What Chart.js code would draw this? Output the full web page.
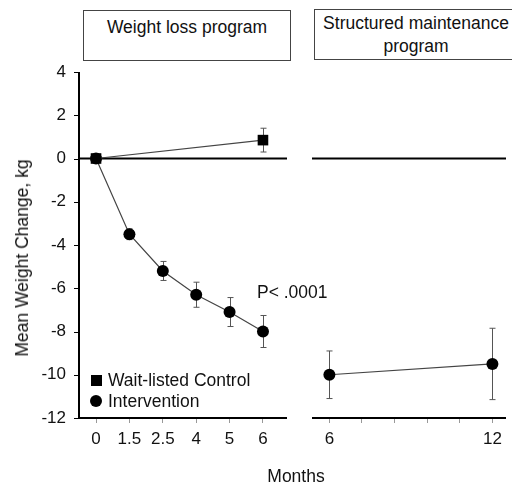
<!DOCTYPE html>
<html>
<head>
<meta charset="utf-8">
<script src="https://cdn.jsdelivr.net/npm/chart.js@4/dist/chart.umd.min.js"></script>
<style>
  html, body { margin:0; padding:0; background:#fff; }
  body { width:512px; height:483px; position:relative; overflow:hidden;
         font-family:"Liberation Sans", Arial, sans-serif; color:#111; }
  .abs { position:absolute; }
  #leftWrap { left:0; top:0; width:300px; height:483px; }
  #rightWrap { left:300px; top:0; width:212px; height:483px; }
  .hdr { position:absolute; box-sizing:border-box; border:1px solid #444; font-size:17.5px;
         text-align:center; background:#fff; }
  .txt { position:absolute; font-size:17.5px; white-space:nowrap; line-height:20px; }
</style>
</head>
<body>
<div id="leftWrap" class="abs"><canvas id="cLeft"></canvas></div>
<div id="rightWrap" class="abs"><canvas id="cRight"></canvas></div>

<div class="hdr" style="left:83px;top:10px;width:208px;height:51px;padding-top:5px;line-height:22px;">Weight loss program</div>
<div class="hdr" style="left:314px;top:9px;width:204px;height:51px;padding-top:2px;line-height:23px;">Structured maintenance<br>program</div>

<div class="txt" id="ytitle" style="left:22px;top:258px;transform:translate(-50%,-50%) rotate(-90deg);">Mean Weight Change, kg</div>
<div class="txt" style="left:296px;top:476px;transform:translate(-50%,-50%);">Months</div>
<div class="txt" style="left:257px;top:282px;">P&lt; .0001</div>

<div class="abs" style="left:91px;top:375px;width:11px;height:11px;background:#000;"></div>
<div class="txt" style="left:108px;top:370px;">Wait-listed Control</div>
<div class="abs" style="left:90px;top:395px;width:12px;height:12px;border-radius:50%;background:#000;"></div>
<div class="txt" style="left:108px;top:391px;">Intervention</div>

<script>
// ---- data ----
const leftMonths = ['0', '1.5', '2.5', '4', '5', '6'];
const interventionValues = [0, -3.5, -5.2, -6.3, -7.1, -8.0];
const interventionErrors = [0, 0.25, 0.44, 0.58, 0.67, 0.74];
const controlMonths = ['0', '6'];
const controlValues = [0, 0.85];
const controlErrors = [0, 0.55];
const maintenanceMonths = [6, 12];
const maintenanceValues = [-10.0, -9.5];
const maintenanceErrors = [1.1, 1.65];
const maintenanceTicks = [6, 7.2, 8.4, 9.6, 10.8, 12];
const maintenanceTickLabels = ['6', '12'];
const yTicks = [4, 2, 0, -2, -4, -6, -8, -10, -12];

// axis ranges
const Y_RANGE = [-12, 4];
const LEFT_X_RANGE = [-0.51, 5.72];
const RIGHT_X_RANGE = [5.36, 12.5];

const FONT = { family: '"Liberation Sans", Arial, sans-serif', size: 17 };
Chart.defaults.font.family = FONT.family;
Chart.defaults.color = '#111';

const errorBars = {
  id: 'errorBars',
  beforeDatasetsDraw(chart) {
    const ctx = chart.ctx;
    const ys = chart.scales.y;
    const xs = chart.scales.x;
    ctx.save();
    ctx.strokeStyle = '#555';
    ctx.lineWidth = 1;
    chart.data.datasets.forEach(ds => {
      (ds.errors || []).forEach((e, i) => {
        if (!e) return;
        const p = ds.data[i];
        const x = Math.round(xs.getPixelForValue(p.x)) + 0.5;
        const y1 = ys.getPixelForValue(p.y + e);
        const y2 = ys.getPixelForValue(p.y - e);
        ctx.beginPath();
        ctx.moveTo(x, y1); ctx.lineTo(x, y2);
        ctx.moveTo(x - 3, y1); ctx.lineTo(x + 3, y1);
        ctx.moveTo(x - 3, y2); ctx.lineTo(x + 3, y2);
        ctx.stroke();
      });
    });
    ctx.restore();
  }
};
// y tick marks
const yTickMarks = {
  id: 'yTickMarks',
  afterDraw(chart, args, opts) {
    if (!opts.show) return;
    const ctx = chart.ctx;
    const xs = chart.scales.x, ys = chart.scales.y;
    const L = Math.round(xs.getPixelForValue(xs.min));
    ctx.save();
    ctx.fillStyle = '#000';
    yTicks.forEach(v => {
      const y = Math.round(ys.getPixelForValue(v));
      ctx.fillRect(L - 5, y, 5, 1);
    });
    ctx.restore();
  }
};

function frameDataset(xr, withY) {
  const pts = withY
    ? [{ x: xr[0], y: Y_RANGE[1] }, { x: xr[0], y: Y_RANGE[0] }, { x: xr[1], y: Y_RANGE[0] }]
    : [{ x: xr[0], y: Y_RANGE[0] }, { x: xr[1], y: Y_RANGE[0] }];
  return { label: 'axis', data: pts, borderColor: '#000', borderWidth: 2, pointRadius: 0,
           tension: 0, clip: false, order: 5, fill: false };
}
function zeroDataset(xr) {
  return { label: 'zero', data: [{ x: xr[0], y: 0 }, { x: xr[1], y: 0 }], borderColor: '#000',
           borderWidth: 2, pointRadius: 0, tension: 0, clip: false, order: 4, fill: false };
}

function yScale(show) {
  return {
    type: 'linear', min: Y_RANGE[0], max: Y_RANGE[1], display: show,
    afterBuildTicks: s => { s.ticks = yTicks.map(v => ({ value: v })); },
    afterFit: s => { s.width = show ? 79 : 0; },
    border: { display: false },
    grid: { drawOnChartArea: false, drawTicks: false },
    ticks: { font: FONT, color: '#111', padding: 13 }
  };
}

new Chart(document.getElementById('cLeft'), {
  type: 'line',
  data: {
    datasets: [
      {
        label: 'Wait-listed Control',
        data: controlMonths.map((m, i) => ({ x: leftMonths.indexOf(m), y: controlValues[i] })),
        errors: controlErrors,
        borderColor: '#444', borderWidth: 1.2, order: 1,
        pointStyle: 'rect', pointRadius: 7.5, pointBackgroundColor: '#000', pointBorderColor: '#000',
        pointBorderWidth: 0, tension: 0
      },
      {
        label: 'Intervention',
        data: leftMonths.map((m, i) => ({ x: i, y: interventionValues[i] })),
        errors: interventionErrors,
        borderColor: '#444', borderWidth: 1.2, order: 2,
        pointStyle: 'circle', pointRadius: 6, pointBackgroundColor: '#000', pointBorderColor: '#000',
        pointBorderWidth: 0, tension: 0
      },
      zeroDataset(LEFT_X_RANGE),
      frameDataset(LEFT_X_RANGE, true)
    ]
  },
  options: {
    responsive: true, maintainAspectRatio: false, animation: false,
    layout: { padding: { top: 72, right: 13, left: 0, bottom: 0 } },
    plugins: { legend: { display: false }, tooltip: { enabled: false }, yTickMarks: { show: true } },
    scales: {
      x: {
        type: 'linear', min: LEFT_X_RANGE[0], max: LEFT_X_RANGE[1],
        afterBuildTicks: s => { s.ticks = leftMonths.map((m, i) => ({ value: i })); },
        afterFit: s => { s.height = 65; },
        border: { display: false },
        grid: { drawOnChartArea: false, tickLength: 5, color: '#999' },
        ticks: { font: FONT, color: '#111', padding: 6, maxRotation: 0,
                 callback: v => leftMonths[v] }
      },
      y: yScale(true)
    }
  },
  plugins: [errorBars, yTickMarks]
});

new Chart(document.getElementById('cRight'), {
  type: 'line',
  data: {
    datasets: [
      {
        label: 'Intervention',
        data: maintenanceMonths.map((m, i) => ({ x: m, y: maintenanceValues[i] })),
        errors: maintenanceErrors,
        borderColor: '#444', borderWidth: 1.2, order: 1,
        pointStyle: 'circle', pointRadius: 6, pointBackgroundColor: '#000', pointBorderColor: '#000',
        pointBorderWidth: 0, tension: 0
      },
      zeroDataset(RIGHT_X_RANGE),
      frameDataset(RIGHT_X_RANGE, false)
    ]
  },
  options: {
    responsive: true, maintainAspectRatio: false, animation: false,
    layout: { padding: { top: 72, right: 0, left: 12, bottom: 0 } },
    plugins: { legend: { display: false }, tooltip: { enabled: false }, yTickMarks: { show: false } },
    scales: {
      x: {
        type: 'linear', min: RIGHT_X_RANGE[0], max: RIGHT_X_RANGE[1],
        afterBuildTicks: s => { s.ticks = maintenanceTicks.map(v => ({ value: v })); },
        afterFit: s => { s.height = 65; },
        border: { display: false },
        grid: { drawOnChartArea: false, tickLength: 5, color: '#999' },
        ticks: { font: FONT, color: '#111', padding: 6, maxRotation: 0, autoSkip: false,
                 callback: v => (maintenanceTickLabels.includes(String(v)) ? String(v) : '') }
      },
      y: yScale(false)
    }
  },
  plugins: [errorBars, yTickMarks]
});
</script>
</body>
</html>
